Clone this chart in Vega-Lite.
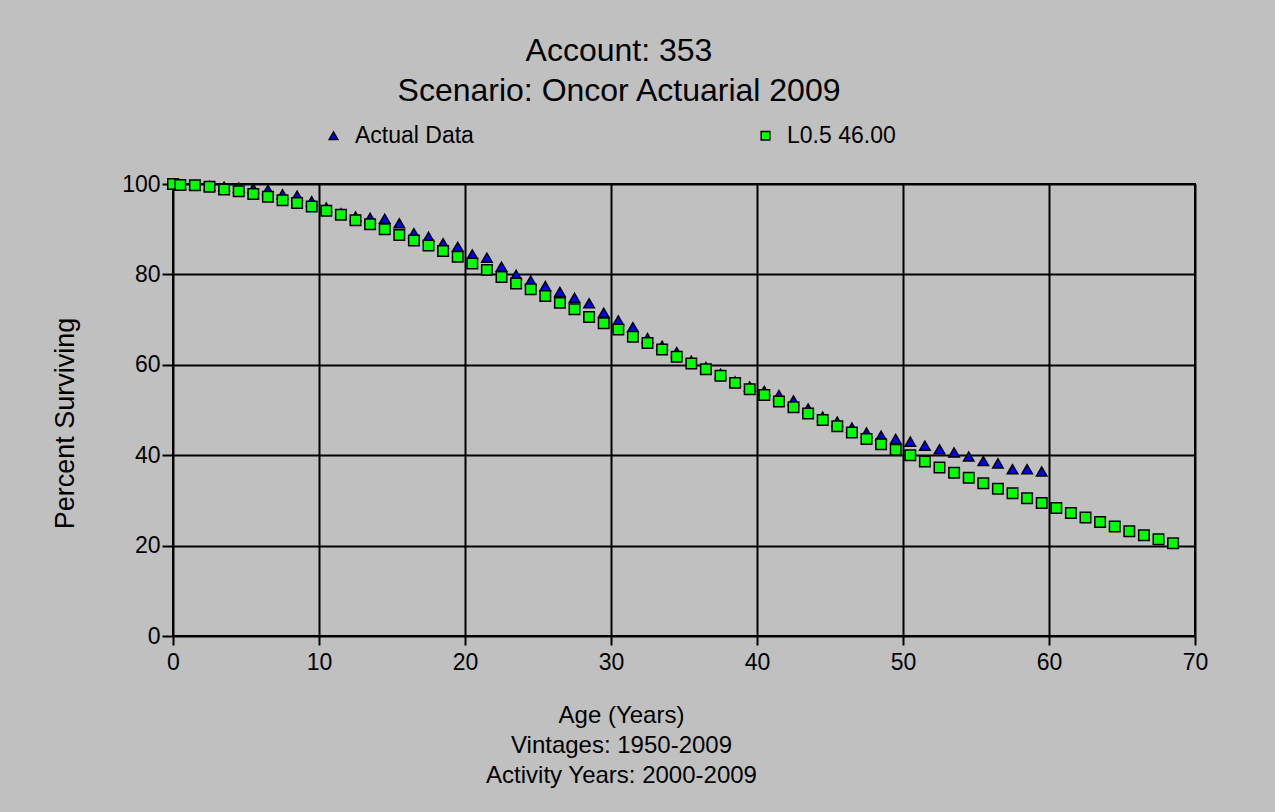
{
  "$schema": "https://vega.github.io/schema/vega-lite/v6.json",
  "width": 1022,
  "height": 452,
  "autosize": {"type": "none"},
  "padding": {"left": 173, "top": 184, "right": 80, "bottom": 176},
  "background": "#C0C0C0",
  "title": {
    "text": ["Account: 353", "Scenario: Oncor Actuarial 2009"],
    "font": "Liberation Sans",
    "fontSize": 32,
    "fontWeight": "normal",
    "color": "#000000",
    "lineHeight": 40,
    "anchor": "middle",
    "dx": -65,
    "offset": 16
  },
  "data": {
    "values": [
      {"age": 0, "pct": 100, "series": "Actual Data"},
      {"age": 0.5, "pct": 99.9, "series": "Actual Data"},
      {"age": 1.5, "pct": 99.8, "series": "Actual Data"},
      {"age": 2.5, "pct": 99.6, "series": "Actual Data"},
      {"age": 3.5, "pct": 99.4, "series": "Actual Data"},
      {"age": 4.5, "pct": 99.2, "series": "Actual Data"},
      {"age": 5.5, "pct": 99.0, "series": "Actual Data"},
      {"age": 6.5, "pct": 98.7, "series": "Actual Data"},
      {"age": 7.5, "pct": 97.7, "series": "Actual Data"},
      {"age": 8.5, "pct": 97.4, "series": "Actual Data"},
      {"age": 9.5, "pct": 96.2, "series": "Actual Data"},
      {"age": 10.5, "pct": 94.8, "series": "Actual Data"},
      {"age": 11.5, "pct": 93.5, "series": "Actual Data"},
      {"age": 12.5, "pct": 92.8, "series": "Actual Data"},
      {"age": 13.5, "pct": 92.5, "series": "Actual Data"},
      {"age": 14.5, "pct": 92.3, "series": "Actual Data"},
      {"age": 15.5, "pct": 91.3, "series": "Actual Data"},
      {"age": 16.5, "pct": 89.1, "series": "Actual Data"},
      {"age": 17.5, "pct": 88.3, "series": "Actual Data"},
      {"age": 18.5, "pct": 86.9, "series": "Actual Data"},
      {"age": 19.5, "pct": 86.1, "series": "Actual Data"},
      {"age": 20.5, "pct": 84.4, "series": "Actual Data"},
      {"age": 21.5, "pct": 83.7, "series": "Actual Data"},
      {"age": 22.5, "pct": 81.7, "series": "Actual Data"},
      {"age": 23.5, "pct": 79.9, "series": "Actual Data"},
      {"age": 24.5, "pct": 78.6, "series": "Actual Data"},
      {"age": 25.5, "pct": 77.4, "series": "Actual Data"},
      {"age": 26.5, "pct": 76.1, "series": "Actual Data"},
      {"age": 27.5, "pct": 74.8, "series": "Actual Data"},
      {"age": 28.5, "pct": 73.6, "series": "Actual Data"},
      {"age": 29.5, "pct": 71.5, "series": "Actual Data"},
      {"age": 30.5, "pct": 69.8, "series": "Actual Data"},
      {"age": 31.5, "pct": 68.3, "series": "Actual Data"},
      {"age": 32.5, "pct": 65.9, "series": "Actual Data"},
      {"age": 33.5, "pct": 64.2, "series": "Actual Data"},
      {"age": 34.5, "pct": 62.8, "series": "Actual Data"},
      {"age": 35.5, "pct": 60.9, "series": "Actual Data"},
      {"age": 36.5, "pct": 59.5, "series": "Actual Data"},
      {"age": 37.5, "pct": 58.0, "series": "Actual Data"},
      {"age": 38.5, "pct": 56.3, "series": "Actual Data"},
      {"age": 39.5, "pct": 55.2, "series": "Actual Data"},
      {"age": 40.5, "pct": 54.2, "series": "Actual Data"},
      {"age": 41.5, "pct": 53.3, "series": "Actual Data"},
      {"age": 42.5, "pct": 52.1, "series": "Actual Data"},
      {"age": 43.5, "pct": 50.3, "series": "Actual Data"},
      {"age": 44.5, "pct": 48.5, "series": "Actual Data"},
      {"age": 45.5, "pct": 47.4, "series": "Actual Data"},
      {"age": 46.5, "pct": 46.1, "series": "Actual Data"},
      {"age": 47.5, "pct": 45.0, "series": "Actual Data"},
      {"age": 48.5, "pct": 44.3, "series": "Actual Data"},
      {"age": 49.5, "pct": 43.6, "series": "Actual Data"},
      {"age": 50.5, "pct": 43.0, "series": "Actual Data"},
      {"age": 51.5, "pct": 42.1, "series": "Actual Data"},
      {"age": 52.5, "pct": 41.3, "series": "Actual Data"},
      {"age": 53.5, "pct": 40.6, "series": "Actual Data"},
      {"age": 54.5, "pct": 39.7, "series": "Actual Data"},
      {"age": 55.5, "pct": 38.7, "series": "Actual Data"},
      {"age": 56.5, "pct": 38.2, "series": "Actual Data"},
      {"age": 57.5, "pct": 36.9, "series": "Actual Data"},
      {"age": 58.5, "pct": 36.9, "series": "Actual Data"},
      {"age": 59.5, "pct": 36.4, "series": "Actual Data"},
      {"age": 0, "pct": 100, "series": "L0.5 46.00"},
      {"age": 0.5, "pct": 99.8, "series": "L0.5 46.00"},
      {"age": 1.5, "pct": 99.7, "series": "L0.5 46.00"},
      {"age": 2.5, "pct": 99.4, "series": "L0.5 46.00"},
      {"age": 3.5, "pct": 98.8, "series": "L0.5 46.00"},
      {"age": 4.5, "pct": 98.4, "series": "L0.5 46.00"},
      {"age": 5.5, "pct": 97.8, "series": "L0.5 46.00"},
      {"age": 6.5, "pct": 97.2, "series": "L0.5 46.00"},
      {"age": 7.5, "pct": 96.4, "series": "L0.5 46.00"},
      {"age": 8.5, "pct": 95.8, "series": "L0.5 46.00"},
      {"age": 9.5, "pct": 95.0, "series": "L0.5 46.00"},
      {"age": 10.5, "pct": 94.1, "series": "L0.5 46.00"},
      {"age": 11.5, "pct": 93.2, "series": "L0.5 46.00"},
      {"age": 12.5, "pct": 92.0, "series": "L0.5 46.00"},
      {"age": 13.5, "pct": 91.1, "series": "L0.5 46.00"},
      {"age": 14.5, "pct": 90.0, "series": "L0.5 46.00"},
      {"age": 15.5, "pct": 88.7, "series": "L0.5 46.00"},
      {"age": 16.5, "pct": 87.5, "series": "L0.5 46.00"},
      {"age": 17.5, "pct": 86.4, "series": "L0.5 46.00"},
      {"age": 18.5, "pct": 85.2, "series": "L0.5 46.00"},
      {"age": 19.5, "pct": 83.9, "series": "L0.5 46.00"},
      {"age": 20.5, "pct": 82.4, "series": "L0.5 46.00"},
      {"age": 21.5, "pct": 81.0, "series": "L0.5 46.00"},
      {"age": 22.5, "pct": 79.4, "series": "L0.5 46.00"},
      {"age": 23.5, "pct": 78.0, "series": "L0.5 46.00"},
      {"age": 24.5, "pct": 76.7, "series": "L0.5 46.00"},
      {"age": 25.5, "pct": 75.2, "series": "L0.5 46.00"},
      {"age": 26.5, "pct": 73.7, "series": "L0.5 46.00"},
      {"age": 27.5, "pct": 72.3, "series": "L0.5 46.00"},
      {"age": 28.5, "pct": 70.6, "series": "L0.5 46.00"},
      {"age": 29.5, "pct": 69.2, "series": "L0.5 46.00"},
      {"age": 30.5, "pct": 67.8, "series": "L0.5 46.00"},
      {"age": 31.5, "pct": 66.2, "series": "L0.5 46.00"},
      {"age": 32.5, "pct": 64.8, "series": "L0.5 46.00"},
      {"age": 33.5, "pct": 63.4, "series": "L0.5 46.00"},
      {"age": 34.5, "pct": 61.8, "series": "L0.5 46.00"},
      {"age": 35.5, "pct": 60.3, "series": "L0.5 46.00"},
      {"age": 36.5, "pct": 59.0, "series": "L0.5 46.00"},
      {"age": 37.5, "pct": 57.6, "series": "L0.5 46.00"},
      {"age": 38.5, "pct": 56.0, "series": "L0.5 46.00"},
      {"age": 39.5, "pct": 54.6, "series": "L0.5 46.00"},
      {"age": 40.5, "pct": 53.3, "series": "L0.5 46.00"},
      {"age": 41.5, "pct": 51.9, "series": "L0.5 46.00"},
      {"age": 42.5, "pct": 50.6, "series": "L0.5 46.00"},
      {"age": 43.5, "pct": 49.2, "series": "L0.5 46.00"},
      {"age": 44.5, "pct": 47.8, "series": "L0.5 46.00"},
      {"age": 45.5, "pct": 46.4, "series": "L0.5 46.00"},
      {"age": 46.5, "pct": 45.0, "series": "L0.5 46.00"},
      {"age": 47.5, "pct": 43.6, "series": "L0.5 46.00"},
      {"age": 48.5, "pct": 42.4, "series": "L0.5 46.00"},
      {"age": 49.5, "pct": 41.2, "series": "L0.5 46.00"},
      {"age": 50.5, "pct": 40.0, "series": "L0.5 46.00"},
      {"age": 51.5, "pct": 38.6, "series": "L0.5 46.00"},
      {"age": 52.5, "pct": 37.3, "series": "L0.5 46.00"},
      {"age": 53.5, "pct": 36.1, "series": "L0.5 46.00"},
      {"age": 54.5, "pct": 35.0, "series": "L0.5 46.00"},
      {"age": 55.5, "pct": 33.8, "series": "L0.5 46.00"},
      {"age": 56.5, "pct": 32.6, "series": "L0.5 46.00"},
      {"age": 57.5, "pct": 31.6, "series": "L0.5 46.00"},
      {"age": 58.5, "pct": 30.5, "series": "L0.5 46.00"},
      {"age": 59.5, "pct": 29.4, "series": "L0.5 46.00"},
      {"age": 60.5, "pct": 28.3, "series": "L0.5 46.00"},
      {"age": 61.5, "pct": 27.2, "series": "L0.5 46.00"},
      {"age": 62.5, "pct": 26.2, "series": "L0.5 46.00"},
      {"age": 63.5, "pct": 25.2, "series": "L0.5 46.00"},
      {"age": 64.5, "pct": 24.2, "series": "L0.5 46.00"},
      {"age": 65.5, "pct": 23.2, "series": "L0.5 46.00"},
      {"age": 66.5, "pct": 22.3, "series": "L0.5 46.00"},
      {"age": 67.5, "pct": 21.4, "series": "L0.5 46.00"},
      {"age": 68.5, "pct": 20.5, "series": "L0.5 46.00"}
    ]
  },
  "mark": {"type": "point", "filled": true, "stroke": "#000000", "strokeWidth": 1.5, "opacity": 1, "size": 110},
  "encoding": {
    "x": {
      "field": "age",
      "type": "quantitative",
      "scale": {"domain": [0, 70], "nice": false, "zero": false},
      "axis": {
        "values": [0, 10, 20, 30, 40, 50, 60, 70],
        "labelFlush": false,
        "labelBound": false,
        "tickSize": 9,
        "labelPadding": 6,
        "title": ["Age (Years)", "Vintages: 1950-2009", "Activity Years: 2000-2009"],
        "titleFontSize": 24,
        "titleLineHeight": 30,
        "titleX": 448,
        "titleY": 67,
        "titleBaseline": "top",
        "titleAlign": "center"
      }
    },
    "y": {
      "field": "pct",
      "type": "quantitative",
      "scale": {"domain": [0, 100], "nice": false, "zero": true},
      "axis": {
        "values": [0, 20, 40, 60, 80, 100],
        "labelFlush": false,
        "labelBound": false,
        "tickSize": 11,
        "labelPadding": 2,
        "title": "Percent Surviving",
        "titleFontSize": 27,
        "titleX": -108,
        "titleY": 239,
        "titleAngle": -90,
        "titleAlign": "center",
        "titleBaseline": "middle"
      }
    },
    "color": {
      "field": "series",
      "type": "nominal",
      "scale": {"domain": ["Actual Data", "L0.5 46.00"], "range": ["#0000FF", "#00FF00"]},
      "legend": {
        "title": null,
        "orient": "none",
        "legendX": 149,
        "legendY": -60,
        "direction": "horizontal",
        "columnPadding": 280,
        "padding": 0,
        "labelOffset": 10,
        "encode": {"symbols": {"update": {"stroke": {"value": "#000000"}, "strokeWidth": {"value": 1.5}}}}
      }
    },
    "shape": {
      "field": "series",
      "type": "nominal",
      "scale": {"domain": ["Actual Data", "L0.5 46.00"], "range": ["triangle-up", "square"]},
      "legend": {
        "title": null,
        "orient": "none",
        "legendX": 149,
        "legendY": -60,
        "direction": "horizontal",
        "columnPadding": 280,
        "padding": 0,
        "labelOffset": 10,
        "encode": {"symbols": {"update": {"stroke": {"value": "#000000"}, "strokeWidth": {"value": 1.5}}}}
      }
    }
  },
  "config": {
    "view": {"stroke": "#000000", "strokeWidth": 2},
    "axis": {
      "domain": false,
      "grid": true,
      "gridColor": "#000000",
      "gridWidth": 2,
      "gridOpacity": 1,
      "tickColor": "#000000",
      "tickWidth": 2,
      "labelFont": "Liberation Sans",
      "labelFontSize": 23,
      "labelColor": "#000000",
      "titleFont": "Liberation Sans",
      "titleFontWeight": "normal",
      "titleColor": "#000000"
    },
    "legend": {
      "labelFont": "Liberation Sans",
      "labelFontSize": 23,
      "labelColor": "#000000",
      "symbolSize": 75,
      "symbolStrokeColor": "#000000",
      "symbolStrokeWidth": 1.5,
      "symbolOpacity": 1
    }
  }
}
